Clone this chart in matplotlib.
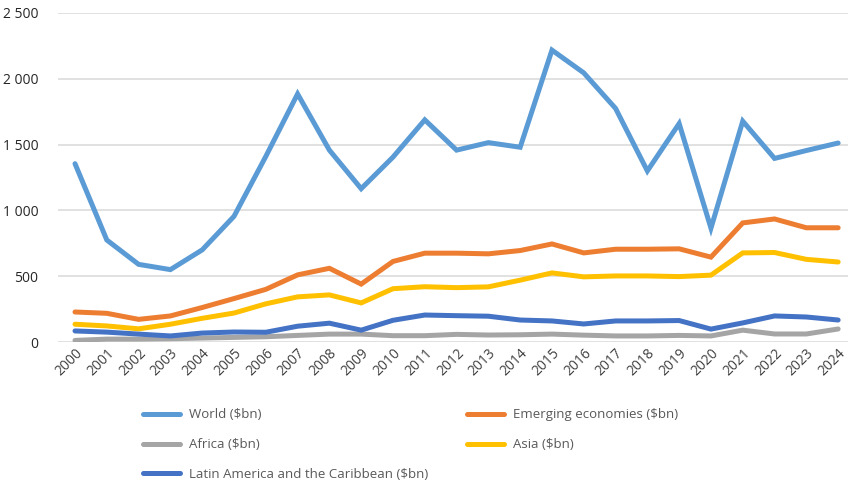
import matplotlib
matplotlib.use("Agg")
import matplotlib.pyplot as plt
from matplotlib.ticker import FuncFormatter, MultipleLocator

years = [str(y) for y in range(2000, 2025)]
world = [1355, 775, 590, 550, 700, 955, 1410, 1885, 1458, 1165, 1405, 1688, 1458, 1515, 1480,
         2218, 2045, 1775, 1300, 1660, 865, 1678, 1395, 1455, 1512]
emerging = [228, 218, 172, 198, 262, 330, 400, 510, 560, 440, 612, 675, 675, 670, 695,
            745, 677, 705, 705, 708, 645, 905, 935, 868, 868]
africa = [12, 22, 22, 25, 30, 35, 40, 50, 60, 60, 48, 48, 58, 53, 55,
          60, 52, 46, 46, 50, 46, 90, 61, 61, 99]
asia = [135, 122, 100, 135, 180, 220, 290, 343, 358, 297, 405, 420, 413, 419, 470,
        525, 495, 502, 502, 497, 508, 677, 680, 628, 608]
latam = [84, 75, 60, 46, 68, 76, 74, 120, 143, 90, 165, 205, 200, 196, 167,
         160, 137, 160, 160, 163, 98, 145, 198, 190, 167]

series_names = ["World ($bn)", "Emerging economies ($bn)", "Africa ($bn)", "Asia ($bn)",
                "Latin America and the Caribbean ($bn)"]
colors = {"World ($bn)": "#5B9BD5", "Emerging economies ($bn)": "#ED7D31",
          "Africa ($bn)": "#A5A5A5", "Asia ($bn)": "#FFC000",
          "Latin America and the Caribbean ($bn)": "#4472C4"}
data = {"World ($bn)": world, "Emerging economies ($bn)": emerging,
        "Africa ($bn)": africa, "Asia ($bn)": asia,
        "Latin America and the Caribbean ($bn)": latam}

plt.rcParams['font.family'] = ['Open Sans', 'DejaVu Sans']

W, H = 849, 484
fig = plt.figure(figsize=(W / 100, H / 100), dpi=100)
ax = fig.add_axes([58 / W, 1 - 342 / H, (848 - 58) / W, (342 - 13) / H])

x = list(range(len(years)))
handles = {}
for name in series_names:
    ln, = ax.plot(x, data[name], color=colors[name], lw=3.6, solid_capstyle='round',
                  solid_joinstyle='miter', label=name, zorder=3)
    handles[name] = ln

ax.set_ylim(0, 2500)
ax.set_xlim(-0.535, 24.31)
ax.yaxis.set_major_locator(MultipleLocator(500))
ax.yaxis.set_major_formatter(FuncFormatter(lambda v, p: f"{int(v):,}".replace(",", " ")))
ax.grid(axis='y', color='#D9D9D9', lw=1.1, zorder=0)
ax.set_axisbelow(True)
for s in ax.spines.values():
    s.set_visible(False)
ax.tick_params(axis='both', length=0)
ax.tick_params(axis='y', labelsize=10, labelcolor='#262626', pad=14)
ax.set_xticks(x)
ax.set_xticklabels(years, rotation=45, ha='right', rotation_mode='anchor',
                   fontsize=10, color='#404040')
ax.tick_params(axis='x', pad=3)

order = ["World ($bn)", "Africa ($bn)", "Latin America and the Caribbean ($bn)",
         "Emerging economies ($bn)", "Asia ($bn)"]
leg = fig.legend([handles[n] for n in order], order, ncol=2, frameon=False,
                 loc='upper left', bbox_to_anchor=(138 / W, 1 - 403 / H),
                 fontsize=9.5, handlelength=2.8, handletextpad=0.7,
                 labelspacing=1.28, columnspacing=2.9, borderaxespad=0)
for t in leg.get_texts():
    t.set_color('#595959')

fig.savefig("out.png", dpi=100)
